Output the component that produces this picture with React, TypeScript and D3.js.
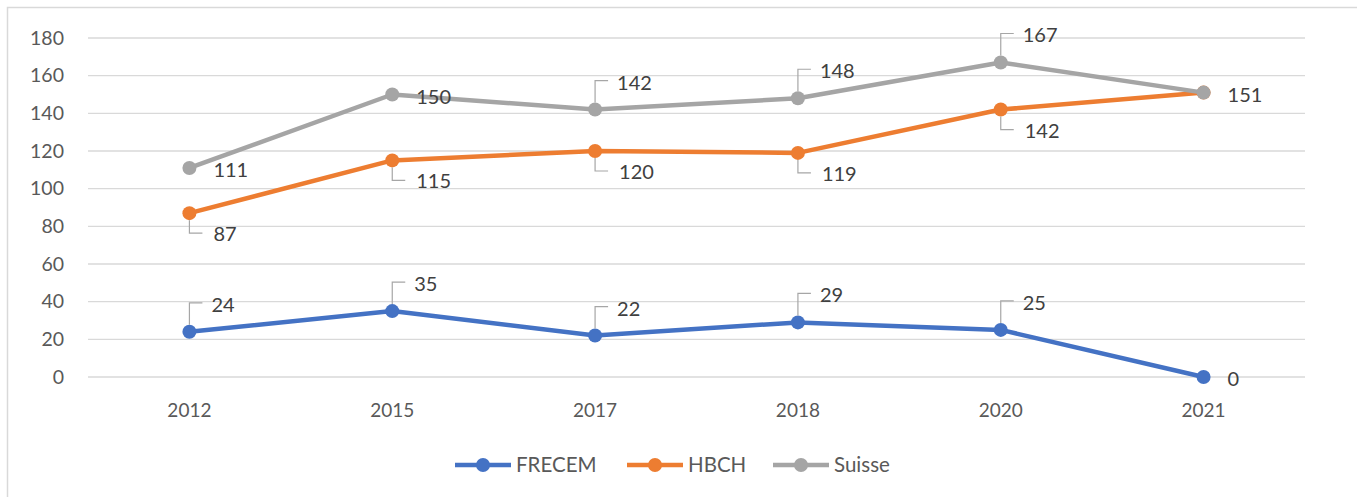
import * as d3 from "d3";
import { useEffect, useRef } from "react";

const years = ["2012", "2015", "2017", "2018", "2020", "2021"];
const frecem = [24, 35, 22, 29, 25, 0];
const hbch = [87, 115, 120, 119, 142, 151];
const suisse = [111, 150, 142, 148, 167, 151];
const yTicks = [0, 20, 40, 60, 80, 100, 120, 140, 160, 180];

// where excel put each data label
const frecemPlace = ["up", "up", "up", "up", "up", "right"];
const hbchPlace = ["down", "down", "down", "down", "down", "right"];
const suissePlace = ["right", "right", "up", "up", "up", "none"];

const series = [
  { name: "FRECEM", values: frecem, color: "#4472C4", place: frecemPlace },
  { name: "HBCH", values: hbch, color: "#ED7D31", place: hbchPlace },
  { name: "Suisse", values: suisse, color: "#A5A5A5", place: suissePlace },
];

const W = 1357,
  H = 497;
const FONT = "Lato, 'Open Sans', sans-serif";

const App = () => {
  const ref = useRef<SVGSVGElement>(null);

  useEffect(() => {
    const svg = d3.select(ref.current);
    svg.selectAll("*").remove();

    const left = 88,
      right = 1305,
      top = 38,
      bottom = 377;

    const x = d3.scaleBand().domain(years).range([left, right]);
    const y = d3.scaleLinear().domain([0, 180]).range([bottom, top]);
    const cx = (d: string) => (x(d) as number) + x.bandwidth() / 2;

    // chart frame
    svg
      .append("rect")
      .attr("x", 7.5)
      .attr("y", 7.5)
      .attr("width", 1400)
      .attr("height", 600)
      .attr("fill", "#fff")
      .attr("stroke", "#d9d9d9")
      .attr("stroke-width", 1.5);

    // grid
    svg
      .append("g")
      .selectAll("line")
      .data(yTicks)
      .join("line")
      .attr("x1", left)
      .attr("x2", right)
      .attr("y1", (d) => y(d))
      .attr("y2", (d) => y(d))
      .attr("stroke", "#d9d9d9")
      .attr("stroke-width", 1.3);

    svg
      .append("g")
      .selectAll("text")
      .data(yTicks)
      .join("text")
      .attr("x", 64)
      .attr("y", (d) => y(d))
      .attr("dy", "0.35em")
      .attr("text-anchor", "end")
      .attr("font-family", FONT)
      .attr("font-size", 19.5)
      .attr("fill", "#595959")
      .text((d) => d);

    svg
      .append("g")
      .selectAll("text")
      .data(years)
      .join("text")
      .attr("x", (d) => cx(d))
      .attr("y", 410)
      .attr("dy", "0.35em")
      .attr("text-anchor", "middle")
      .attr("font-family", FONT)
      .attr("font-size", 19)
      .attr("fill", "#595959")
      .text((d) => d);

    const lineGen = d3
      .line<number>()
      .x((_, i) => cx(years[i]))
      .y((d) => y(d));

    series.forEach((s) => {
      svg
        .append("path")
        .attr("d", lineGen(s.values))
        .attr("fill", "none")
        .attr("stroke", s.color)
        .attr("stroke-width", 4.5)
        .attr("stroke-linejoin", "round");

      svg
        .append("g")
        .selectAll("circle")
        .data(s.values)
        .join("circle")
        .attr("cx", (_, i) => cx(years[i]))
        .attr("cy", (d) => y(d))
        .attr("r", 7)
        .attr("fill", s.color);
    });

    // data labels + leader lines
    series.forEach((s) => {
      s.values.forEach((v, i) => {
        const p = s.place[i];
        if (p === "none") return;
        const px = cx(years[i]),
          py = y(v);
        let lx = px + 24,
          ly = py + 2;
        if (p === "up") {
          lx = px + 22;
          ly = py - 27;
        } else if (p === "down") {
          lx = px + 24;
          ly = py + 21;
        }
        if (p === "up" || p === "down") {
          const ey = p === "up" ? ly - 2 : ly - 1;
          svg
            .append("path")
            .attr("d", `M${px},${p === "up" ? py - 7 : py + 7}L${px},${ey}L${px + 13},${ey}`)
            .attr("fill", "none")
            .attr("stroke", "#a6a6a6")
            .attr("stroke-width", 1.2);
        }
        svg
          .append("text")
          .attr("x", lx)
          .attr("y", ly)
          .attr("dy", "0.35em")
          .attr("font-family", FONT)
          .attr("font-size", 20)
          .attr("fill", "#404040")
          .text(v);
      });
    });

    // legend
    const legX = [455, 627, 773];
    series.forEach((s, i) => {
      const g = svg.append("g").attr("transform", `translate(${legX[i]},465)`);
      g.append("line")
        .attr("x1", 0)
        .attr("x2", 56)
        .attr("stroke", s.color)
        .attr("stroke-width", 4.5);
      g.append("circle").attr("cx", 28).attr("r", 7).attr("fill", s.color);
      g.append("text")
        .attr("x", 61)
        .attr("dy", "0.35em")
        .attr("font-family", FONT)
        .attr("font-size", 20.5)
        .attr("fill", "#595959")
        .text(s.name);
    });
  }, []);

  return (
    <svg
      ref={ref}
      width={W}
      height={H}
      style={{ position: "absolute", left: 0, top: 0, background: "#fff" }}
    />
  );
};

export default App;
